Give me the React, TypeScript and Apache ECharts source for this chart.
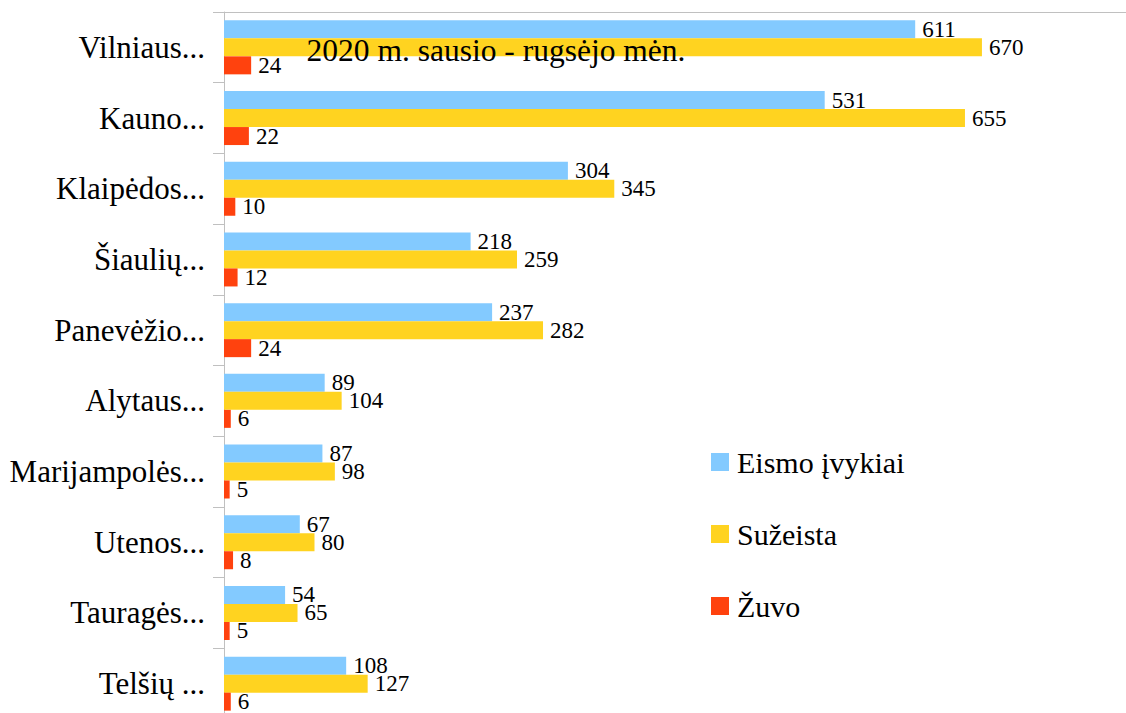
import React, { useEffect, useRef } from "react";
import * as echarts from "echarts";

const categories = [
  "Vilniaus...",
  "Kauno...",
  "Klaipėdos...",
  "Šiaulių...",
  "Panevėžio...",
  "Alytaus...",
  "Marijampolės...",
  "Utenos...",
  "Tauragės...",
  "Telšių ...",
];
const eismoIvykiai = [611, 531, 304, 218, 237, 89, 87, 67, 54, 108];
const suzeista = [670, 655, 345, 259, 282, 104, 98, 80, 65, 127];
const zuvo = [24, 22, 10, 12, 24, 6, 5, 8, 5, 6];

const seriesNames = ["Eismo įvykiai", "Sužeista", "Žuvo"];
const seriesColors = ["#83CAFF", "#FFD320", "#FF420E"];
const titleText = "2020 m. sausio - rugsėjo mėn.";

const FONT = "Liberation Serif";

export default function App() {
  const ref = useRef<HTMLDivElement>(null);
  useEffect(() => {
    document.body.style.margin = "0";
    if (!ref.current) return;
    const chart = echarts.init(ref.current, undefined, { renderer: "svg" });
    const dataSets = [eismoIvykiai, suzeista, zuvo];
    chart.setOption({
      animation: false,
      textStyle: { fontFamily: FONT },
      title: {
        text: titleText,
        left: 491,
        top: 29,
        textAlign: "center",
        textStyle: { fontFamily: FONT, fontSize: 31.5, fontWeight: "normal", color: "#000" },
      },
      legend: {
        orient: "vertical",
        left: 711,
        top: 447,
        padding: 0,
        itemWidth: 18,
        itemHeight: 18,
        itemGap: 42,
        icon: "rect",
        data: seriesNames,
        textStyle: { fontFamily: FONT, fontSize: 30, color: "#000", padding: [0, 0, 0, 3] },
      },
      grid: {
        left: 224,
        top: 12,
        width: 905,
        height: 707,
        containLabel: false,
        outerBoundsMode: "none",
      },
      xAxis: {
        type: "value",
        position: "top",
        min: 0,
        max: 800,
        axisLine: { show: true, lineStyle: { color: "#c0c0c0", width: 1 } },
        axisTick: { show: false },
        axisLabel: { show: false },
        splitLine: { show: false },
      },
      yAxis: {
        type: "category",
        inverse: true,
        data: categories,
        axisLine: { show: true, lineStyle: { color: "#c0c0c0", width: 1 } },
        axisTick: { show: true, length: 11, lineStyle: { color: "#c0c0c0" } },
        axisLabel: { margin: 19, fontFamily: FONT, fontSize: 31, color: "#000" },
      },
      series: seriesNames.map((name, i) => ({
        name,
        type: "bar",
        data: dataSets[i],
        barWidth: 18,
        barGap: "0%",
        itemStyle: { color: seriesColors[i] },
        label: {
          show: true,
          position: "right",
          distance: 7,
          fontFamily: FONT,
          fontSize: 23,
          color: "#000",
        },
      })),
    });
    return () => chart.dispose();
  }, []);
  return <div ref={ref} style={{ width: 1126, height: 713 }} />;
}
